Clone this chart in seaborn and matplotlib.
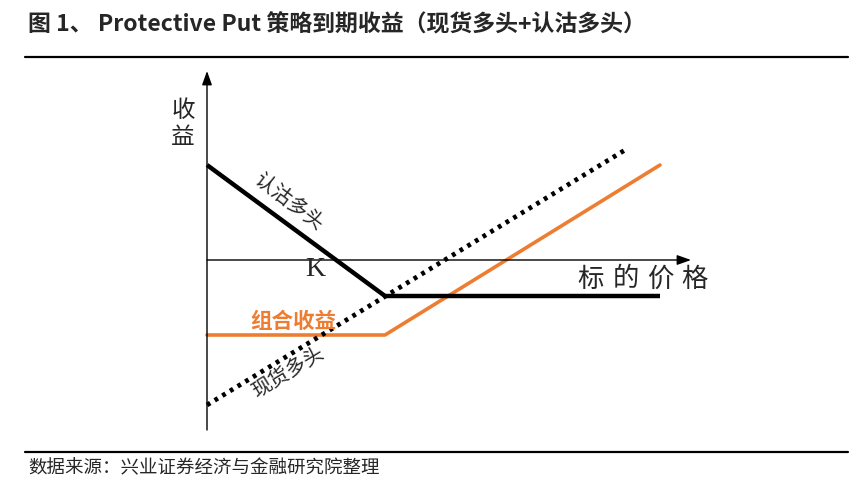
import matplotlib
matplotlib.use('Agg')
import matplotlib.pyplot as plt
from matplotlib.lines import Line2D
import seaborn as sns
import pandas as pd

# ---- data (schematic payoff values) ----
price_put = [0, 17.8, 45.3]
payoff_put = [9.5, -3.6, -3.6]
price_spot = [0, 41.8]
payoff_spot = [-14.5, 11.0]
price_combo = [0, 17.8, 45.3]
payoff_combo = [-7.5, -7.5, 9.5]

title = "图 1、 Protective Put 策略到期收益（现货多头+认沽多头）"
source = "数据来源：兴业证券经济与金融研究院整理"
lbl_put = "认沽多头"
lbl_spot = "现货多头"
lbl_combo = "组合收益"
x_label = "标的价格"
y_label = "收\n益"
strike_label = "K"

sns.set_theme(style='white')
plt.rcParams['font.family'] = ['Noto Sans CJK SC', 'DejaVu Sans']

W, H = 858, 496
fig = plt.figure(figsize=(W / 100, H / 100), dpi=100)
ax = fig.add_axes([0, 0, 1, 1])
ax.set_xlim(-20.7, (W - 207) / 10)
ax.set_ylim((260 - H) / 10, 26.0)
ax.axis('off')

def fx(px):
    return px / W

def fy(py):
    return 1 - py / H

df_put = pd.DataFrame({'price': price_put, 'payoff': payoff_put})
df_spot = pd.DataFrame({'price': price_spot, 'payoff': payoff_spot})
df_combo = pd.DataFrame({'price': price_combo, 'payoff': payoff_combo})

# axes with arrows
ax.annotate('', xy=(48.4, 0), xytext=(0, 0),
            arrowprops=dict(arrowstyle='-|>,head_length=0.7,head_width=0.25', color='black', lw=1.0,
                            shrinkA=0, shrinkB=0))
ax.annotate('', xy=(0, 18.9), xytext=(0, -17.0),
            arrowprops=dict(arrowstyle='-|>,head_length=0.7,head_width=0.25', color='black', lw=1.0,
                            shrinkA=0, shrinkB=0))

sns.lineplot(data=df_combo, x='price', y='payoff', ax=ax, color='#ED7D31', lw=2.6,
             sort=False, estimator=None)
sns.lineplot(data=df_spot, x='price', y='payoff', ax=ax, color='black', lw=3.4,
             linestyle=(0, (0.8, 1.1)), sort=False, estimator=None)
sns.lineplot(data=df_put, x='price', y='payoff', ax=ax, color='black', lw=3.2,
             sort=False, estimator=None, solid_capstyle='butt')

# in-chart labels
ax.text(-2.4, 13.6, y_label, ha='center', va='center', fontsize=17, linespacing=1.25)
for i, ch in enumerate(x_label):
    ax.text(38.4 + i * 3.45, -1.9, ch, ha='center', va='center', fontsize=19)
ax.text(10.8, -1.0, strike_label, ha='center', va='center', fontsize=20,
        family=['Liberation Serif', 'DejaVu Serif'])
ax.text(8.2, 5.8, lbl_put, ha='center', va='center', fontsize=14.5, rotation=-37,
        rotation_mode='anchor')
ax.text(8.1, -11.2, lbl_spot, ha='center', va='center', fontsize=14.5, rotation=31.4,
        rotation_mode='anchor')
ax.text(8.6, -6.1, lbl_combo, ha='center', va='center', fontsize=15.5, color='#ED7D31',
        fontweight='bold')

# header / footer
fig.text(fx(28), fy(25), title, ha='left', va='center', fontsize=16.5, fontweight='bold')
fig.add_artist(Line2D([fx(25), fx(848)], [fy(57), fy(57)], transform=fig.transFigure,
                      color='black', lw=1.6))
fig.add_artist(Line2D([fx(25), fx(848)], [fy(452), fy(452)], transform=fig.transFigure,
                      color='black', lw=1.6))
fig.text(fx(28), fy(468), source, ha='left', va='center', fontsize=13.3)

fig.savefig('out.png', dpi=100)
